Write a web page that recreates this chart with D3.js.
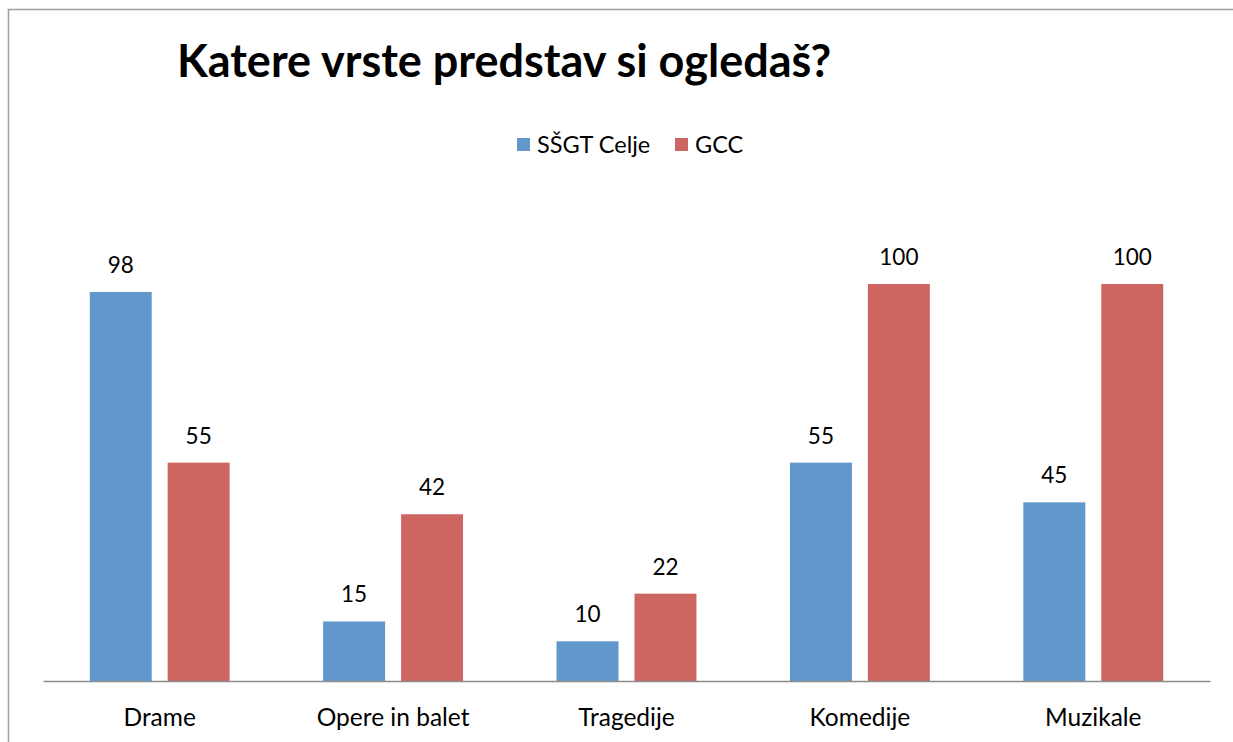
<!DOCTYPE html>
<html lang="sl">
<head>
<meta charset="UTF-8">
<title>Katere vrste predstav si ogledaš?</title>
<script src="https://d3js.org/d3.v7.min.js"></script>
<style>
  body { margin: 0; background: #fff; }
  svg { display: block; font-family: Lato, "Open Sans", sans-serif; }
</style>
</head>
<body>
<svg id="chart" width="1233" height="742"></svg>
<script>
    // data
    const categories = ["Drame", "Opere in balet", "Tragedije", "Komedije", "Muzikale"];
    const seriesNames = ["SŠGT Celje", "GCC"];
    const ssgtValues = [98, 15, 10, 55, 45];
    const gccValues = [55, 42, 22, 100, 100];
    const colors = ["#6197cb", "#cd6560"];

    const svg = d3.select("#chart");

    // frame (continues past right and bottom edge, like the cropped original)
    svg.append("rect")
        .attr("x", 8.5).attr("y", 9.5)
        .attr("width", 1300).attr("height", 800)
        .attr("fill", "none")
        .attr("stroke", "#a0a0a0")
        .attr("stroke-width", 1.5);

    const plotLeft = 43, plotRight = 1210, baseY = 681, topY = 284;

    const x0 = d3.scaleBand().domain(categories).range([plotLeft, plotRight]).padding(0);
    const x1 = d3.scaleBand().domain(seriesNames).range([0, x0.bandwidth()])
        .paddingInner(0.205).paddingOuter(0.6);
    const y = d3.scaleLinear().domain([0, 100]).range([baseY, topY]);

    const rows = categories.map((c, i) => ({
        cat: c,
        vals: [
            { s: seriesNames[0], v: ssgtValues[i], c: colors[0] },
            { s: seriesNames[1], v: gccValues[i], c: colors[1] }
        ]
    }));

    const groups = svg.selectAll("g.grp").data(rows).join("g")
        .attr("class", "grp")
        .attr("transform", d => "translate(" + x0(d.cat) + ",0)");

    groups.selectAll("rect").data(d => d.vals).join("rect")
        .attr("x", d => x1(d.s))
        .attr("y", d => y(d.v))
        .attr("width", x1.bandwidth())
        .attr("height", d => y(0) - y(d.v))
        .attr("fill", d => d.c);

    groups.selectAll("text.val").data(d => d.vals).join("text")
        .attr("class", "val")
        .attr("x", d => x1(d.s) + x1.bandwidth() / 2)
        .attr("y", d => y(d.v) - 19)
        .attr("text-anchor", "middle")
        .attr("font-size", 22.5)
        .attr("fill", "#000")
        .text(d => d.v);

    // x axis
    const axis = svg.append("g")
        .attr("transform", "translate(0," + baseY + ")")
        .call(d3.axisBottom(x0).tickSize(0).tickPadding(28));
    axis.select(".domain").attr("stroke", "#8c8c8c").attr("stroke-width", 1.5);
    axis.selectAll("text")
        .attr("font-size", 24.5)
        .attr("font-family", "Lato, sans-serif")
        .attr("fill", "#000");

    // title
    svg.append("text")
        .attr("x", 177).attr("y", 77)
        .attr("font-size", 45)
        .attr("font-weight", "bold")
        .attr("fill", "#000")
        .text("Katere vrste predstav si ogledaš?");

    // legend
    const legendX = [517, 675];
    const leg = svg.selectAll("g.leg").data(seriesNames).join("g")
        .attr("class", "leg")
        .attr("transform", (d, i) => "translate(" + legendX[i] + ",138)");
    leg.append("rect")
        .attr("width", 13).attr("height", 13)
        .attr("fill", (d, i) => colors[i]);
    leg.append("text")
        .attr("x", 20).attr("y", 15)
        .attr("font-size", 23.5)
        .attr("fill", "#000")
        .text(d => d);
</script>
</body>
</html>
